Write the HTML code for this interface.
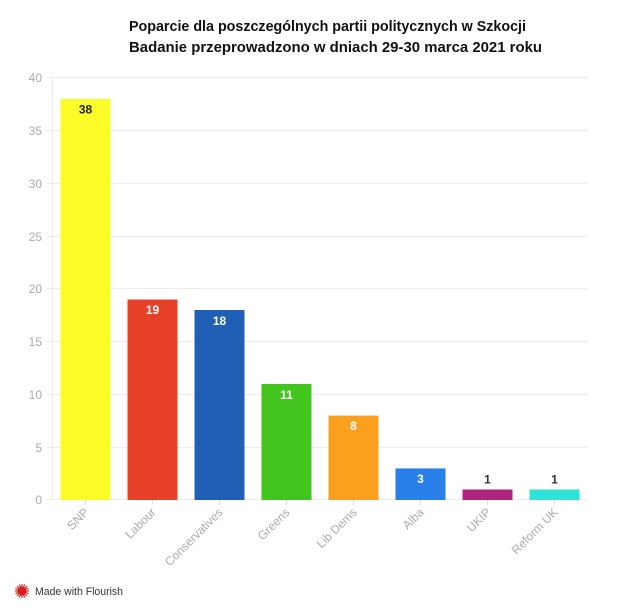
<!DOCTYPE html>
<html><head><meta charset="utf-8"><style>
html,body{margin:0;padding:0;background:#fff;}
svg{display:block;}
</style></head><body>
<svg width="620" height="608" viewBox="0 0 620 608" xmlns="http://www.w3.org/2000/svg" font-family="Liberation Sans, sans-serif">
<rect width="620" height="608" fill="#fff"/>
<text x="129" y="31" font-size="15" font-weight="bold" fill="#111" textLength="397" lengthAdjust="spacingAndGlyphs">Poparcie dla poszczególnych partii politycznych w Szkocji</text>
<text x="129" y="52" font-size="15" font-weight="bold" fill="#111" textLength="413" lengthAdjust="spacingAndGlyphs">Badanie przeprowadzono w dniach 29-30 marca 2021 roku</text>
<g stroke="#ececec" stroke-width="1">
<line x1="47" y1="77.5" x2="587" y2="77.5"/>
<line x1="47" y1="130.5" x2="587" y2="130.5"/>
<line x1="47" y1="183.5" x2="587" y2="183.5"/>
<line x1="47" y1="236.5" x2="587" y2="236.5"/>
<line x1="47" y1="288.5" x2="587" y2="288.5"/>
<line x1="47" y1="341.5" x2="587" y2="341.5"/>
<line x1="47" y1="394.5" x2="587" y2="394.5"/>
<line x1="47" y1="447.5" x2="587" y2="447.5"/>
<line x1="47" y1="499.5" x2="587" y2="499.5"/>
<line x1="52.5" y1="77" x2="52.5" y2="500"/>
</g>
<g font-size="12" fill="#aaa" text-anchor="end">
<text x="42" y="82">40</text>
<text x="42" y="135">35</text>
<text x="42" y="188">30</text>
<text x="42" y="241">25</text>
<text x="42" y="293">20</text>
<text x="42" y="346">15</text>
<text x="42" y="399">10</text>
<text x="42" y="452">5</text>
<text x="42" y="504">0</text>
</g>
<g stroke="#ddd" stroke-width="1">
<line x1="85.5" y1="500" x2="85.5" y2="505"/>
<line x1="152.5" y1="500" x2="152.5" y2="505"/>
<line x1="219.5" y1="500" x2="219.5" y2="505"/>
<line x1="286.5" y1="500" x2="286.5" y2="505"/>
<line x1="353.5" y1="500" x2="353.5" y2="505"/>
<line x1="420.5" y1="500" x2="420.5" y2="505"/>
<line x1="487.5" y1="500" x2="487.5" y2="505"/>
<line x1="554.5" y1="500" x2="554.5" y2="505"/>
</g>
<rect x="60.5" y="99" width="50" height="401" fill="#fbfb28"/>
<rect x="127.5" y="299.5" width="50" height="200.5" fill="#e8412a"/>
<rect x="194.5" y="310" width="50" height="190" fill="#1f5fb5"/>
<rect x="261.5" y="384" width="50" height="116" fill="#44c41f"/>
<rect x="328.5" y="415.6" width="50" height="84.4" fill="#fb9f1f"/>
<rect x="395.5" y="468.4" width="50" height="31.6" fill="#2a80e9"/>
<rect x="462.5" y="489.5" width="50" height="10.5" fill="#b0237e"/>
<rect x="529.5" y="489.5" width="50" height="10.5" fill="#2ee4d9"/>
<g font-size="12" font-weight="bold" text-anchor="middle">
<text x="85.5" y="113.5" fill="#222">38</text>
<text x="152.5" y="314" fill="#fff">19</text>
<text x="219.5" y="325" fill="#fff">18</text>
<text x="286.5" y="399" fill="#fff">11</text>
<text x="353.5" y="430" fill="#fff">8</text>
<text x="420.5" y="483" fill="#fff">3</text>
<text x="487.5" y="483.5" fill="#333">1</text>
<text x="554.5" y="483.5" fill="#333">1</text>
</g>
<g font-size="12" fill="#aaa" text-anchor="end">
<text transform="translate(89.5,513) rotate(-45)">SNP</text>
<text transform="translate(156.5,513) rotate(-45)">Labour</text>
<text transform="translate(223.5,513) rotate(-45)">Conservatives</text>
<text transform="translate(290.5,513) rotate(-45)">Greens</text>
<text transform="translate(357.5,513) rotate(-45)">Lib Dems</text>
<text transform="translate(424.5,513) rotate(-45)">Alba</text>
<text transform="translate(491.5,513) rotate(-45)">UKIP</text>
<text transform="translate(558.5,513) rotate(-45)">Reform UK</text>
</g>
<g transform="translate(22,591)">
<circle r="4.5" fill="#d32020"/>
<g stroke="#d32020" stroke-width="1.2">
<line x1="-7" y1="0" x2="7" y2="0"/>
<line x1="0" y1="-7" x2="0" y2="7"/>
<line x1="-5" y1="-5" x2="5" y2="5"/>
<line x1="-5" y1="5" x2="5" y2="-5"/>
<line x1="-6.5" y1="-2.7" x2="6.5" y2="2.7"/>
<line x1="-6.5" y1="2.7" x2="6.5" y2="-2.7"/>
<line x1="-2.7" y1="-6.5" x2="2.7" y2="6.5"/>
<line x1="2.7" y1="-6.5" x2="-2.7" y2="6.5"/>
</g>
</g>
<text x="35" y="595" font-size="11" fill="#333" textLength="88" lengthAdjust="spacingAndGlyphs">Made with Flourish</text>
</svg>
</body></html>
